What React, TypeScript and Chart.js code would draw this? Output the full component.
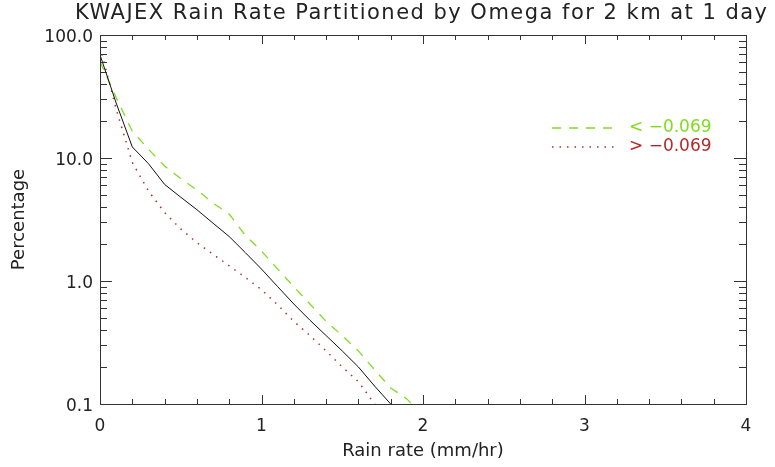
import React, { useEffect, useRef } from "react";
import { Chart, registerables } from "chart.js";

Chart.register(...registerables);

const TITLE = "KWAJEX Rain Rate Partitioned by Omega for 2 km at 1 day";
const X_TITLE = "Rain rate (mm/hr)";
const Y_TITLE = "Percentage";
const X_TICKS = [0, 1, 2, 3, 4];
const Y_TICKS = [0.1, 1, 10, 100];

// rain-rate bins (mm/hr)
const rainBins = [0, 0.1, 0.2, 0.3, 0.4, 0.5, 0.6, 0.7, 0.8, 0.9, 1.0, 1.1, 1.2, 1.3, 1.4, 1.5, 1.6, 1.7, 1.8, 1.9, 2.0];
// all points (black solid)
const allPct = [69, 28, 12.3, 9.0, 6.1, 4.8, 3.8, 2.95, 2.3, 1.7, 1.25, 0.9, 0.65, 0.48, 0.36, 0.27, 0.2, 0.14, 0.1, 0.07, null];
// omega < -0.069 (green dashed)
const belowPct = [61, 31, 16.5, 11.8, 8.6, 6.8, 5.5, 4.3, 3.5, 2.35, 1.75, 1.25, 0.9, 0.65, 0.47, 0.36, 0.27, 0.19, 0.135, 0.11, 0.08];
// omega > -0.069 (red dotted)
const abovePct = [80, 25, 9.2, 5.4, 3.6, 2.65, 2.05, 1.65, 1.33, 1.07, 0.85, 0.64, 0.47, 0.36, 0.27, 0.2, 0.152, 0.1, 0.07, null, null];

const LEGEND_LABELS = ["< \u22120.069", "> \u22120.069"];

const GREEN = "#80dc20";
const RED = "#b42a2a";
const TEXT = "#222222";
const FONT = '"DejaVu Sans", sans-serif';

const toPoints = (ys: (number | null)[]) =>
  rainBins.map((x, i) => ({ x, y: ys[i] }));

const framePlugin = {
  id: "idlFrame",
  afterDraw(chart: any) {
    const { ctx, chartArea } = chart;
    const xs = chart.scales.x;
    const ys = chart.scales.y;
    const { left, right, top, bottom } = chartArea;
    ctx.save();
    ctx.strokeStyle = "#333333";
    ctx.lineWidth = 1;
    ctx.strokeRect(Math.round(left) + 0.5, Math.round(top) + 0.5, Math.round(right - left), Math.round(bottom - top));
    ctx.beginPath();
    // x ticks every 0.2
    for (let i = 0; i <= 20; i++) {
      const v = i * 0.2;
      const px = Math.round(xs.getPixelForValue(v)) + 0.5;
      const len = i % 5 === 0 ? 9 : 5;
      ctx.moveTo(px, bottom);
      ctx.lineTo(px, bottom - len);
      ctx.moveTo(px, top);
      ctx.lineTo(px, top + len);
    }
    // y ticks log
    for (let e = -1; e <= 2; e++) {
      for (let k = 1; k <= 9; k++) {
        const v = k * Math.pow(10, e);
        if (v > 100.0001) continue;
        const py = Math.round(ys.getPixelForValue(v)) + 0.5;
        const len = k === 1 ? 12 : 7;
        ctx.moveTo(left, py);
        ctx.lineTo(left + len, py);
        ctx.moveTo(right, py);
        ctx.lineTo(right - len, py);
      }
    }
    ctx.stroke();

    // legend
    const entries = [
      { y: 128, color: GREEN, dash: [9, 8], width: 1.5, label: LEGEND_LABELS[0] },
      { y: 147, color: RED, dash: [1.5, 6], width: 1.5, label: LEGEND_LABELS[1] },
    ];
    ctx.font = "17px " + FONT;
    ctx.textBaseline = "middle";
    ctx.textAlign = "left";
    for (const en of entries) {
      ctx.beginPath();
      ctx.strokeStyle = en.color;
      ctx.lineWidth = en.width;
      ctx.setLineDash(en.dash);
      ctx.moveTo(552, en.y);
      ctx.lineTo(614, en.y);
      ctx.stroke();
      ctx.setLineDash([]);
      ctx.fillStyle = en.color;
      ctx.fillText(en.label, 629, en.y);
    }

    // title
    ctx.font = "21px " + FONT;
    ctx.fillStyle = TEXT;
    ctx.textAlign = "center";
    ctx.textBaseline = "middle";
    const target = 692;
    const w = ctx.measureText(TITLE).width;
    const n = TITLE.length - 1;
    const sp = (target - w) / n;
    (ctx as any).letterSpacing = sp.toFixed(2) + "px";
    ctx.fillText(TITLE, 421 + sp / 2, 14);
    (ctx as any).letterSpacing = "0px";
    ctx.restore();
  },
};

export default function App() {
  const ref = useRef<HTMLCanvasElement | null>(null);
  useEffect(() => {
    const canvas = ref.current;
    if (!canvas) return;
    const chart = new Chart(canvas, {
      type: "line",
      data: {
        datasets: [
          {
            label: "all",
            data: toPoints(allPct),
            borderColor: "#111111",
            borderWidth: 1,
            pointRadius: 0,
            tension: 0,
            fill: false,
          },
          {
            label: LEGEND_LABELS[0],
            data: toPoints(belowPct),
            borderColor: GREEN,
            borderWidth: 1.3,
            borderDash: [9, 8],
            pointRadius: 0,
            tension: 0,
            fill: false,
          },
          {
            label: LEGEND_LABELS[1],
            data: toPoints(abovePct),
            borderColor: RED,
            borderWidth: 1.5,
            borderDash: [1.5, 6],
            pointRadius: 0,
            tension: 0,
            fill: false,
          },
        ],
      },
      options: {
        responsive: false,
        animation: false,
        layout: { padding: { left: 0, right: 29, top: 35, bottom: 0 } },
        plugins: {
          legend: { display: false },
          title: { display: false },
          tooltip: { enabled: false },
        },
        scales: {
          x: {
            type: "linear",
            min: 0,
            max: 4,
            grid: { display: false, drawTicks: false },
            border: { display: false },
            afterBuildTicks: (s: any) => {
              s.ticks = X_TICKS.map((v) => ({ value: v }));
            },
            afterFit: (s: any) => {
              s.height = 63;
            },
            ticks: {
              autoSkip: false,
              maxRotation: 0,
              padding: 12,
              color: TEXT,
              font: { family: FONT, size: 17 },
              callback: (v: any) => String(v),
            },
            title: {
              display: true,
              text: X_TITLE,
              color: TEXT,
              font: { family: FONT, size: 18 },
              padding: { top: 0, bottom: 5 },
            },
          },
          y: {
            type: "logarithmic",
            min: 0.1,
            max: 100,
            grid: { display: false, drawTicks: false },
            border: { display: false },
            afterBuildTicks: (s: any) => {
              s.ticks = Y_TICKS.map((v) => ({ value: v }));
            },
            afterFit: (s: any) => {
              s.width = 100;
            },
            ticks: {
              autoSkip: false,
              padding: 7,
              labelOffset: 3,
              color: TEXT,
              font: { family: FONT, size: 17 },
              callback: (v: any) => Number(v).toFixed(1),
            },
            title: {
              display: true,
              text: Y_TITLE,
              color: TEXT,
              font: { family: FONT, size: 18 },
              padding: { top: 9, bottom: 0 },
            },
          },
        },
      },
      plugins: [framePlugin],
    });
    return () => chart.destroy();
  }, []);
  return (
    <div style={{ position: "absolute", left: 0, top: 0, width: 775, height: 467, background: "#fff" }}>
      <canvas ref={ref} width={775} height={467} style={{ width: 775, height: 467 }} />
    </div>
  );
}
